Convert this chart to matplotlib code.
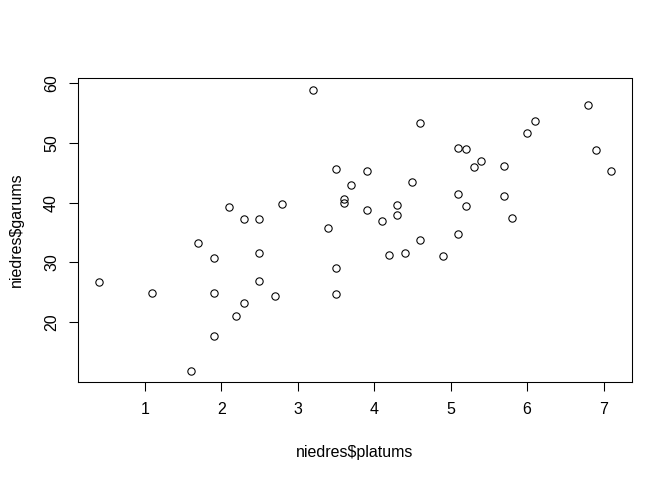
import matplotlib
matplotlib.use("Agg")
import matplotlib.pyplot as plt

platums = [0.4, 1.1, 1.9, 1.9, 1.9, 1.6, 1.7, 2.1, 2.3, 2.5, 2.5, 2.5, 2.3, 2.2,
           3.2, 4.6, 3.5, 3.9, 3.7, 4.5, 3.6, 3.6, 2.8, 3.9, 4.3, 4.3, 4.1, 3.4,
           4.6, 4.2, 4.4, 4.9, 3.5, 3.5, 2.7,
           5.1, 5.2, 5.3, 5.4, 5.7, 5.1, 5.2, 5.7, 5.8, 5.1, 6.0, 6.1, 6.8, 6.9, 7.1]
garums = [26.7, 24.9, 24.9, 30.8, 17.7, 11.9, 33.3, 39.2, 37.3, 37.3, 31.6, 26.9, 23.2, 21.1,
          58.9, 53.4, 45.7, 45.3, 43.0, 43.5, 40.6, 39.9, 39.7, 38.8, 39.6, 38.0, 37.0, 35.7,
          33.7, 31.3, 31.6, 31.0, 29.1, 24.7, 24.3,
          49.2, 49.05, 46.0, 46.9, 46.2, 41.4, 39.5, 41.1, 37.4, 34.7, 51.6, 53.6, 56.4, 48.8, 45.3]

x_ticks = [1, 2, 3, 4, 5, 6, 7]
y_ticks = [20, 30, 40, 50, 60]
x_label = "niedres$platums"
y_label = "niedres$garums"

plt.rcParams['font.family'] = ['Liberation Sans', 'DejaVu Sans']
plt.rcParams['font.size'] = 12

W, H = 672, 480
fig = plt.figure(figsize=(W / 96, H / 96), dpi=96)
left, right, top, bottom = 78.3, 631.8, 78.5, 381.8
ax = fig.add_axes([left / W, 1 - bottom / H, (right - left) / W, (bottom - top) / H])

ax.plot(platums, garums, linestyle='none', marker='o', markersize=5.5,
        markerfacecolor='none', markeredgecolor='black', markeredgewidth=0.8)

xmin, xmax = min(platums), max(platums)
ymin, ymax = min(garums), max(garums)
dx, dy = (xmax - xmin) * 0.04, (ymax - ymin) * 0.04
ax.set_xlim(xmin - dx, xmax + dx)
ax.set_ylim(ymin - dy, ymax + dy)

ax.set_xticks(x_ticks)
ax.set_xticklabels([str(t) for t in x_ticks])
ax.set_yticks(y_ticks)
ax.set_yticklabels([str(t) for t in y_ticks], rotation=90, va='center')

for s in ax.spines.values():
    s.set_linewidth(0.8)
    s.set_color('black')
ax.tick_params(axis='both', length=7, width=0.8, color='black', labelsize=12)
ax.tick_params(axis='x', pad=8)
ax.tick_params(axis='y', pad=7.5)

ax.set_xlabel(x_label, fontsize=12, va='baseline')
ax.xaxis.set_label_coords(0.5, ((H - 456.7) - (H - bottom)) / (bottom - top))
ax.set_ylabel(y_label, fontsize=12, va='center', ha='center')
ax.yaxis.set_label_coords((16 - left) / (right - left), 0.5)

fig.savefig("out.png", dpi=96, facecolor='white')
